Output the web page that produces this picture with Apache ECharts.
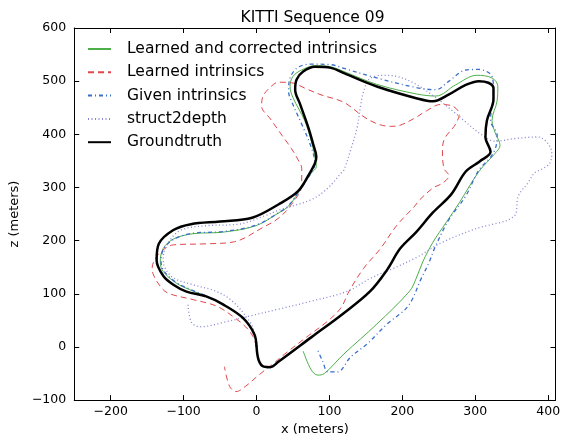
<!DOCTYPE html>
<html><head><meta charset="utf-8">
<script src="https://cdn.jsdelivr.net/npm/echarts@6/dist/echarts.min.js"></script>
<style>html,body{margin:0;padding:0;background:#fff}#c{width:563px;height:441px}</style>
</head><body><div id="c"></div>
<script>
const titleText = 'KITTI Sequence 09';
const seriesNames = ['Learned and corrected intrinsics', 'Learned intrinsics', 'Given intrinsics', 'struct2depth', 'Groundtruth'];
const xTicks = [-200, -100, 0, 100, 200, 300, 400];
const yTicks = [-100, 0, 100, 200, 300, 400, 500, 600];

const learnedCorrected = [[0,0],[-3,24],[-19,55],[-46,80],[-69,95],[-92,108],[-110,120],[-128,142],[-132,160],[-128,185],[-114,203],[-87,213],[-46,216],[-1,228],[30,252],[44,265],[57,290],[75,327],[82,339],[79,365],[75,388],[66,426],[50,469],[46,490],[50,509],[62,521],[80,529],[102,527],[120,518],[165,494],[219,476],[246,472],[273,493],[302,511],[323,506],[331,490],[330,463],[323,426],[327,404],[334,379],[327,364],[305,330],[278,271],[260,234],[242,197],[228,160],[219,129],[210,105],[165,43],[120,-13],[93,-50],[84,-53],[75,-43],[64,-8]];

const learned = [[0,0],[-5,20],[-15,38],[-33,58],[-55,77],[-87,89],[-121,101],[-132,114],[-142,138],[-143,150],[-141,160],[-132,178],[-114,192],[-69,194],[-30,198],[9,225],[30,242],[48,268],[62,305],[62,336],[57,352],[48,373],[35,398],[19,429],[7,453],[9,472],[20,490],[30,498],[48,497],[66,487],[87,475],[120,460],[145,435],[165,420],[184,415],[194,416],[215,429],[233,444],[252,456],[269,453],[278,438],[273,419],[258,392],[255,370],[257,336],[264,322],[255,308],[242,299],[224,277],[217,265],[192,228],[170,185],[147,148],[127,105],[116,74],[98,49],[71,21],[39,-13],[26,-28],[3,-53],[-15,-74],[-28,-84],[-37,-74],[-44,-37]];

const given = [[0,0],[-3,24],[-19,55],[-46,80],[-69,96],[-92,109],[-110,121],[-127,143],[-131,162],[-127,185],[-113,203],[-87,214],[-46,217],[-1,229],[30,252],[44,266],[58,292],[76,330],[80,345],[75,376],[62,419],[50,456],[44,481],[46,506],[57,526],[75,532],[102,531],[120,524],[165,506],[219,488],[246,484],[264,500],[287,521],[305,522],[323,509],[325,481],[321,426],[330,398],[328,375],[320,355],[305,333],[287,284],[264,240],[244,185],[237,160],[226,129],[208,77],[179,43],[152,6],[129,-19],[111,-47],[98,-47],[91,-28],[83,-3]];

const struct2depth = [[0,0],[-3.6,30],[-10,49],[-33,86],[-56,105],[-87,117],[-114,130],[-126,150],[-128,166],[-123,191],[-105,219],[-69,228],[-24,231],[12,247],[30,257],[75,277],[98,299],[116,327],[120,333],[129,370],[138,413],[143,456],[147,481],[154,503],[170,511],[192,509],[215,497],[243,472],[269,444],[287,423],[310,398],[327,387],[354,392],[386,395],[400,382],[405,364],[402,345],[392,335],[381,327],[372,308],[359,284],[354,247],[300,222],[255,197],[219,168],[188,148],[156,129],[125,105],[75,86],[30,71],[-10,58],[-46,46],[-76,38],[-89,46],[-94,80]];

const groundtruth = [[0,0],[-3,24],[-19,55],[-46,80],[-69,95],[-96,104],[-114,117],[-128,134],[-137,163],[-134,194],[-114,220],[-90,231],[-50,236],[-6,243],[30,268],[57,293],[73,327],[80,345],[82,358],[78,380],[71,413],[60,456],[53,484],[55,503],[64,518],[80,527],[102,525],[120,515],[165,490],[219,468],[242,462],[264,475],[287,493],[305,500],[318,497],[325,487],[325,466],[316,426],[314,395],[321,367],[306,349],[287,330],[267,287],[242,253],[219,216],[197,185],[179,145],[156,105],[120,64],[75,18],[30,-28],[19,-38],[10,-37],[3,-25],[0,2]];

const FONT = 'DejaVu Sans';
const fmt = v => String(v).replace('-', '\u2212');
const chart = echarts.init(document.getElementById('c'), null, {renderer: 'canvas'});

function xAx(pos, showLabel) {
  return {
    type: 'value', min: -250, max: 410, position: pos,
    axisLine: {show: true, onZero: false, lineStyle: {color: '#000', width: 1}},
    axisTick: {show: true, inside: true, length: 5, customValues: xTicks, lineStyle: {color: '#000', width: 1}},
    axisLabel: {show: showLabel, customValues: xTicks, formatter: fmt, color: '#000', fontSize: 12.5, fontFamily: FONT, margin: 5},
    splitLine: {show: false},
    name: showLabel ? 'x (meters)' : '', nameLocation: 'middle', nameGap: 21,
    nameTextStyle: {color: '#000', fontSize: 13, fontFamily: FONT}
  };
}
function yAx(pos, showLabel) {
  return {
    type: 'value', min: -100, max: 600, interval: 100, position: pos,
    axisLine: {show: true, onZero: false, lineStyle: {color: '#000', width: 1}},
    axisTick: {show: true, inside: true, length: 5, lineStyle: {color: '#000', width: 1}},
    axisLabel: {show: showLabel, formatter: fmt, color: '#000', fontSize: 12.5, fontFamily: FONT, margin: 8},
    splitLine: {show: false},
    name: showLabel ? 'z (meters)' : '', nameLocation: 'middle', nameGap: 46,
    nameTextStyle: {color: '#000', fontSize: 13, fontFamily: FONT}
  };
}

const styles = [
  {data: learnedCorrected, color: '#4daf4a', width: 1, type: 'solid'},
  {data: learned, color: '#e0474c', width: 1, type: [6, 4]},
  {data: given, color: '#3b6fc9', width: 1.3, type: [4, 3, 1, 3]},
  {data: struct2depth, color: '#8585d6', width: 1.3, type: [1, 2.5]},
  {data: groundtruth, color: '#000000', width: 2.5, type: 'solid'}
];

chart.setOption({
  animation: false,
  backgroundColor: '#fff',
  title: {text: titleText, left: 312.5, textAlign: 'center', top: 10, padding: 0,
    textStyle: {fontSize: 15.5, fontWeight: 'normal', color: '#000', fontFamily: FONT}},
  grid: {left: 68, right: 6, top: 28, bottom: 35.5, containLabel: false},
  legend: {orient: 'vertical', left: 87, top: 41, padding: 0, itemWidth: 23, itemHeight: 14, itemGap: 7.3,
    itemStyle: {opacity: 0},
    textStyle: {fontSize: 15.5, color: '#000', fontFamily: FONT, padding: [0, 0, 0, 11]},
    data: seriesNames},
  xAxis: [xAx('bottom', true), xAx('top', false)],
  yAxis: [yAx('left', true), yAx('right', false)],
  series: styles.map((s, i) => ({
    name: seriesNames[i], type: 'line', data: s.data, symbol: 'none', showSymbol: false,
    smooth: 0.35, clip: true, z: 2 + i,
    lineStyle: {color: s.color, width: s.width, type: s.type},
    itemStyle: {color: s.color}
  }))
});
</script></body></html>
